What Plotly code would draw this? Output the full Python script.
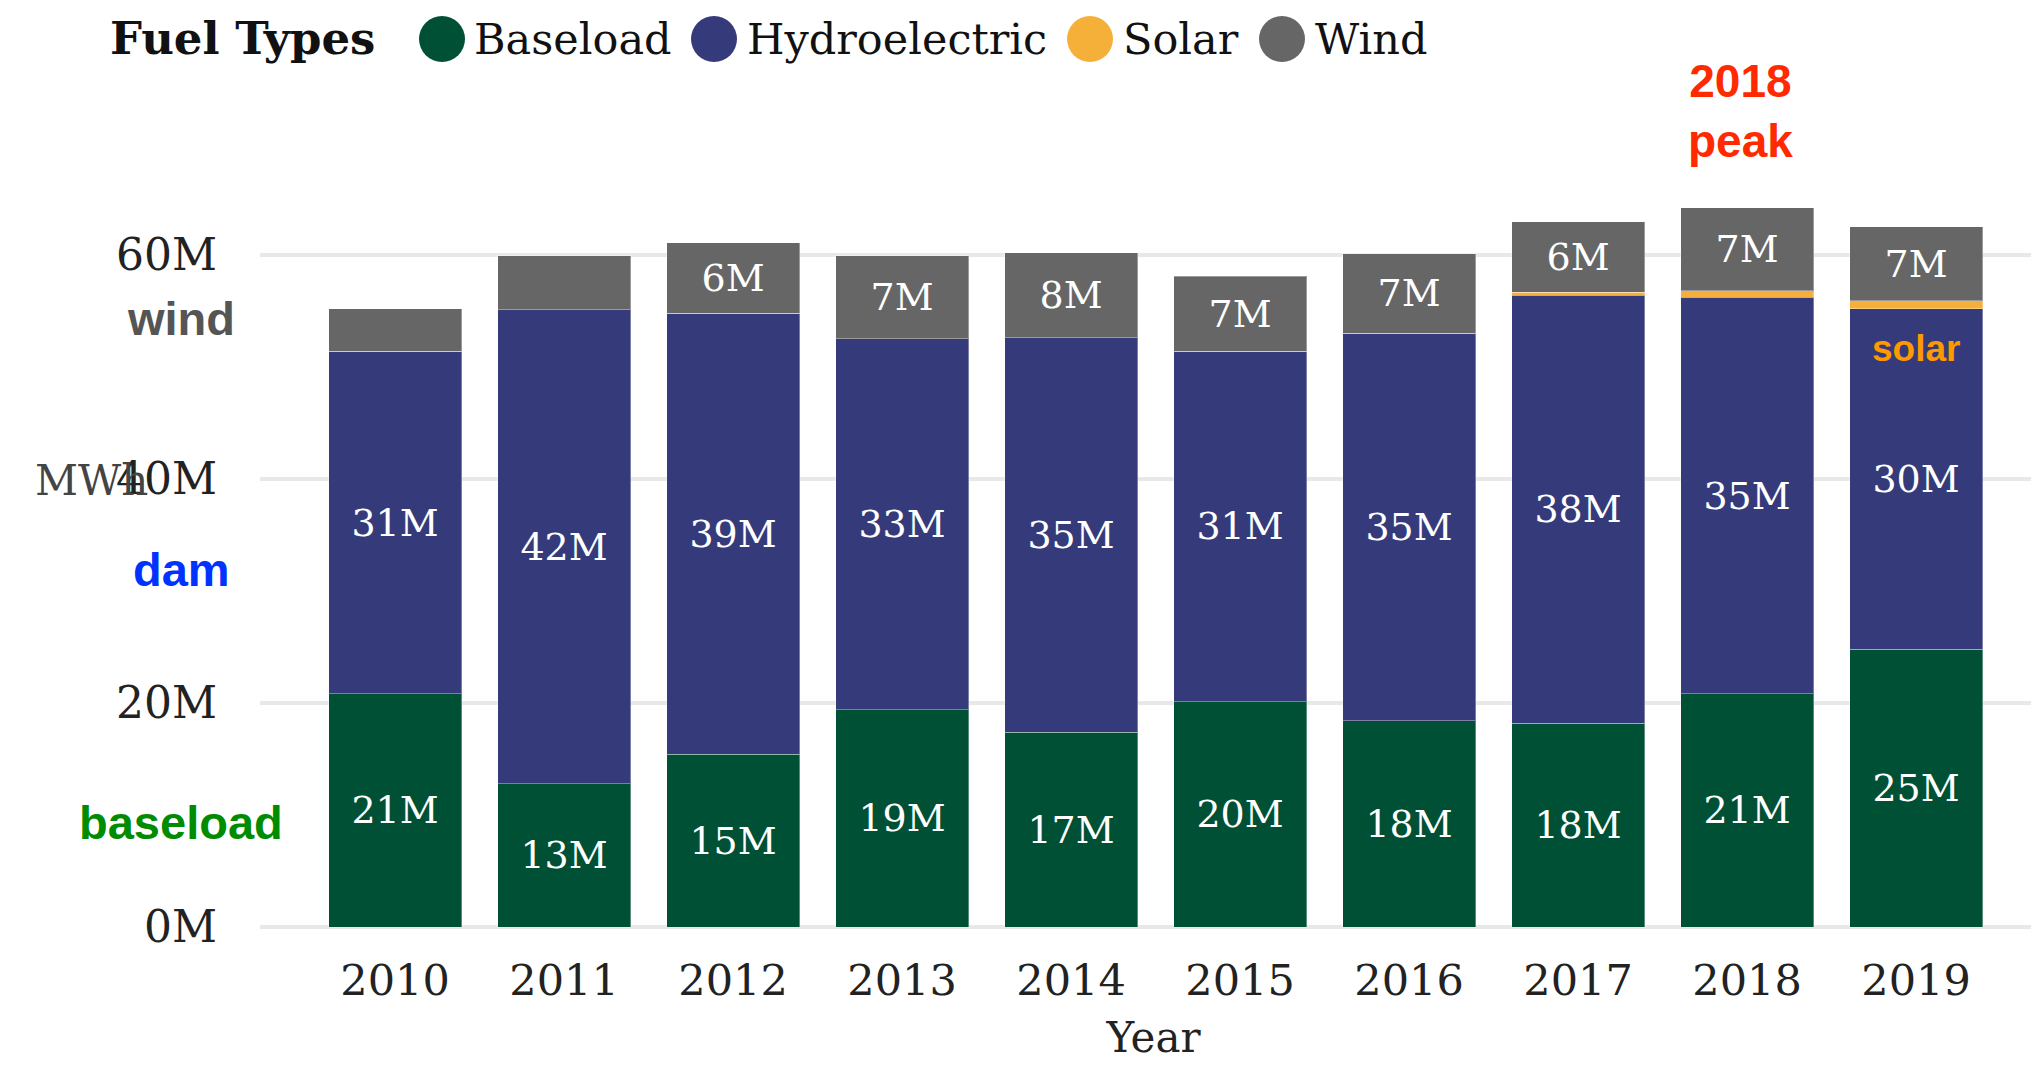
import plotly.graph_objects as go

years = ["2010", "2011", "2012", "2013", "2014", "2015", "2016", "2017", "2018", "2019"]
baseload = [20.8, 12.8, 15.4, 19.4, 17.4, 20.1, 18.4, 18.2, 20.8, 24.8]
hydro = [30.6, 42.3, 39.4, 33.1, 35.2, 31.3, 34.6, 38.2, 35.4, 30.4]
solar = [0, 0, 0, 0, 0, 0, 0, 0.25, 0.6, 0.7]
wind = [3.8, 4.8, 6.3, 7.4, 7.6, 6.7, 7.1, 6.3, 7.4, 6.6]

y_ticks = [0, 20, 40, 60]
y_tick_text = ["0M", "20M", "40M", "60M"]

series_names = ["Baseload", "Hydroelectric", "Solar", "Wind"]
series_colors = ["#005035", "#353B7A", "#F5B03A", "#666666"]

SERIF = "DejaVu Serif"
SANS = "Liberation Sans"

OFF = 8  # page body offset
W, H = 2039, 1069
ML, MR, MT, MB = 252, 0, 25, 150
PW = W - ML - MR
PH = H - MT - MB


def px_x(p):
    return (p - OFF - ML) / PW


def px_y(p):
    return (H - MB - (p - OFF)) / PH


def labels(vals, minv=0):
    return [f"{round(v)}M" if v >= minv and v > 0 else "" for v in vals]


fig = go.Figure()
series_vals = [baseload, hydro, solar, wind]
series_text = [labels(baseload), labels(hydro), ["" for _ in solar], labels(wind, 5)]
for name, color, vals, txt in zip(series_names, series_colors, series_vals, series_text):
    fig.add_trace(go.Bar(
        x=years, y=vals, name=name, text=txt,
        marker=dict(color=color, line=dict(color="rgba(255,255,255,0.35)", width=1)),
        textposition="inside", insidetextanchor="middle",
        textfont=dict(family=SERIF, size=38, color="white"),
        showlegend=False,
    ))

fig.update_layout(
    width=W, height=H,
    barmode="stack", bargap=0.213,
    margin=dict(l=ML, r=MR, t=MT, b=MB),
    plot_bgcolor="white", paper_bgcolor="white",
    font=dict(family=SERIF, size=42, color="#222222"),
    xaxis=dict(type="category", range=[-0.799, 9.775], showgrid=False, zeroline=False,
               ticks="", ticklabelstandoff=24,
               title=dict(text="Year", standoff=18, font=dict(family=SERIF, size=42, color="#222222")),
               tickfont=dict(family=SERIF, size=43, color="#222222")),
    yaxis=dict(range=[0, 79.8], tickvals=y_ticks, ticktext=y_tick_text, showgrid=True,
               gridcolor="#e8e8e8", gridwidth=4, zeroline=True, zerolinecolor="#e8e8e8", zerolinewidth=4,
               ticks="", ticklabelstandoff=42,
               tickfont=dict(family=SERIF, size=44, color="#222222")),
)

annotations = []
shapes = []

# Legend built by hand
annotations.append(dict(text="<b>Fuel Types</b>", xref="paper", yref="paper",
                        x=px_x(108), y=px_y(39), xanchor="left", yanchor="middle",
                        showarrow=False, font=dict(family=SERIF, size=45, color="#111111")))
circle_cx = [442, 714, 1090, 1282]
text_x = [472, 745, 1121, 1313]
for name, color, cx, tx in zip(series_names, series_colors, circle_cx, text_x):
    shapes.append(dict(type="circle", xref="paper", yref="paper",
                       xsizemode="pixel", ysizemode="pixel",
                       xanchor=px_x(cx), yanchor=px_y(39),
                       x0=-23, x1=23, y0=-23, y1=23,
                       fillcolor=color, line=dict(width=0)))
    annotations.append(dict(text=name, xref="paper", yref="paper",
                            x=px_x(tx), y=px_y(39), xanchor="left", yanchor="middle",
                            showarrow=False, font=dict(family=SERIF, size=43, color="#111111")))

# Y axis unit label (overlapping tick label as in reference)
annotations.append(dict(text="MWh", xref="paper", yref="y", x=px_x(91), y=39.9,
                        xanchor="center", yanchor="middle", showarrow=False,
                        font=dict(family=SERIF, size=42, color="#444444")))

# Side notes
side_notes = [("wind", 54.3, "#555555"), ("dam", 31.9, "#0033FF"), ("baseload", 9.3, "#008C00")]
for txt, yv, col in side_notes:
    annotations.append(dict(text=f"<b>{txt}</b>", xref="paper", yref="y", x=px_x(181), y=yv,
                            xanchor="center", yanchor="middle", showarrow=False,
                            font=dict(family=SANS, size=47, color=col)))

annotations.append(dict(text="<b>solar</b>", xref="x", yref="y", x=years.index("2019"), y=51.6,
                        xanchor="center", yanchor="middle", showarrow=False,
                        font=dict(family=SANS, size=37, color="#FF9900")))
annotations.append(dict(text="<b>2018<br>peak</b>", xref="x", yref="y", x=years.index("2018"), y=72.8,
                        xshift=-7, xanchor="center", yanchor="middle", showarrow=False,
                        font=dict(family=SANS, size=46, color="#FF2A00")))

fig.update_layout(annotations=annotations, shapes=shapes)

fig.write_html("out.html")
